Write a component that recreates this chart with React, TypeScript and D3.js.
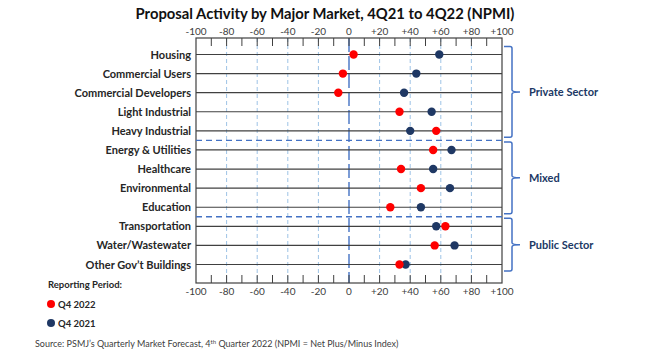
import React from 'react';
import * as d3 from 'd3';

// categories top to bottom
const categories = [
  'Housing', 'Commercial Users', 'Commercial Developers', 'Light Industrial', 'Heavy Industrial',
  'Energy & Utilities', 'Healthcare', 'Environmental', 'Education',
  'Transportation', 'Water/Wastewater', 'Other Gov\u2019t Buildings'
];
// NPMI values
const q4_2022 = [3, -4, -7, 33, 57, 55, 34, 47, 27, 63, 56, 33];
const q4_2021 = [59, 44, 36, 54, 40, 67, 55, 66, 47, 57, 69, 37];
const tickValues = [-100, -80, -60, -40, -20, 0, 20, 40, 60, 80, 100];
const minorTicks = d3.range(-90, 100, 10);
const groups = [
  {name: 'Private Sector', first: 'Housing', last: 'Heavy Industrial'},
  {name: 'Mixed', first: 'Energy & Utilities', last: 'Education'},
  {name: 'Public Sector', first: 'Transportation', last: 'Other Gov\u2019t Buildings'}
];
const legend = [
  {label: 'Q4 2022', color: '#ff0000'},
  {label: 'Q4 2021', color: '#1f3864'}
];

const font = 'Lato, "Open Sans", sans-serif';
const blue = '#4472c4';

function fmt(v: number) {
  return v > 0 ? '+' + v : String(v);
}

export default function App() {
  const width = 645, height = 350;
  const top = 38, bottom = 283;
  const x = d3.scaleLinear().domain([-100, 100]).range([196, 502]);
  const y = d3.scalePoint<string>().domain(categories).range([54.5, 264.5]);

  // right curly brace
  const bracePath = (y0: number, y1: number) => {
    const x0 = 504, xv = 512, xt = 520;
    const mid = (y0 + y1) / 2;
    return `M${x0},${y0} L${xv - 2},${y0} Q${xv},${y0} ${xv},${y0 + 2} L${xv},${mid - 2} Q${xv},${mid} ${xt},${mid} ` +
      `Q${xv},${mid} ${xv},${mid + 2} L${xv},${y1 - 2} Q${xv},${y1} ${xv - 2},${y1} L${x0},${y1}`;
  };

  const separators = [
    (y('Heavy Industrial')! + y('Energy & Utilities')!) / 2,
    (y('Education')! + y('Transportation')!) / 2
  ];

  return (
    <svg width={width} height={height} style={{display: 'block', position: 'absolute', left: 0, top: 0}}>
      <rect width={width} height={height} fill="#fff" />
      <text x={325} y={19} textAnchor="middle" fontFamily={font} fontWeight="bold" fontSize={14.8} fill="#111">
        Proposal Activity by Major Market, 4Q21 to 4Q22 (NPMI)
      </text>

      {/* vertical grid */}
      {tickValues.filter(v => v !== 0 && Math.abs(v) !== 100).map(v => (
        <line key={'g' + v} x1={x(v)} x2={x(v)} y1={top} y2={bottom} stroke="#9dc3e6" strokeWidth={1} strokeDasharray="4,3" />
      ))}
      <line x1={x(0)} x2={x(0)} y1={top} y2={bottom} stroke={blue} strokeWidth={1.4} strokeDasharray="14,4" />

      {/* box */}
      <rect x={x(-100)} y={top} width={x(100) - x(-100)} height={bottom - top} fill="none" stroke="#404040" strokeWidth={1.2} />
      {minorTicks.map(v => (
        <g key={'t' + v}>
          <line x1={x(v)} x2={x(v)} y1={top} y2={top + 8} stroke="#404040" strokeWidth={1} />
          <line x1={x(v)} x2={x(v)} y1={bottom} y2={bottom - 8} stroke="#404040" strokeWidth={1} />
        </g>
      ))}
      {tickValues.map(v => (
        <g key={'l' + v} fontFamily={font} fontSize={10} fill="#404040" textAnchor="middle">
          <text x={x(v)} y={top - 3}>{fmt(v)}</text>
          <text x={x(v)} y={bottom + 12}>{fmt(v)}</text>
        </g>
      ))}

      {/* separators */}
      {separators.map((s, i) => (
        <line key={'s' + i} x1={x(-100)} x2={x(100) + 2} y1={s} y2={s} stroke={blue} strokeWidth={1.3} strokeDasharray="6,4" />
      ))}

      {/* rows */}
      {categories.map((c, i) => (
        <g key={c}>
          <line x1={x(-100)} x2={x(100)} y1={y(c)} y2={y(c)} stroke="#404040" strokeWidth={1.2} />
          <text x={191} y={y(c)! + 4} textAnchor="end" fontFamily={font} fontWeight="bold" fontSize={11} fill="#262626">{c}</text>
          <circle cx={x(q4_2021[i])} cy={y(c)} r={4.2} fill="#1f3864" />
          <circle cx={x(q4_2022[i])} cy={y(c)} r={4.2} fill="#ff0000" />
        </g>
      ))}

      {/* group braces */}
      {groups.map(g => {
        const y0 = y(g.first)! - 8, y1 = y(g.last)! + 6.5;
        return (
          <g key={g.name}>
            <path d={bracePath(y0, y1)} fill="none" stroke={blue} strokeWidth={1.5} />
            <text x={529} y={(y0 + y1) / 2 + 4} fontFamily={font} fontWeight="bold" fontSize={11} fill="#203864">{g.name}</text>
          </g>
        );
      })}

      {/* legend */}
      <text x={48} y={288} fontFamily={font} fontWeight="bold" fontSize={9.5} fill="#262626">Reporting Period:</text>
      {legend.map((d, i) => (
        <g key={d.label}>
          <circle cx={51} cy={304 + i * 19} r={4} fill={d.color} />
          <text x={58} y={307.5 + i * 19} fontFamily={font} fontWeight="bold" fontSize={9.5} fill="#262626">{d.label}</text>
        </g>
      ))}
      <text x={35} y={347} fontFamily={font} fontSize={9} fill="#404040">
        Source: PSMJ’s Quarterly Market Forecast, 4<tspan fontSize={6} dy={-3}>th</tspan><tspan dy={3}> Quarter 2022 (NPMI = Net Plus/Minus Index)</tspan>
      </text>
    </svg>
  );
}
